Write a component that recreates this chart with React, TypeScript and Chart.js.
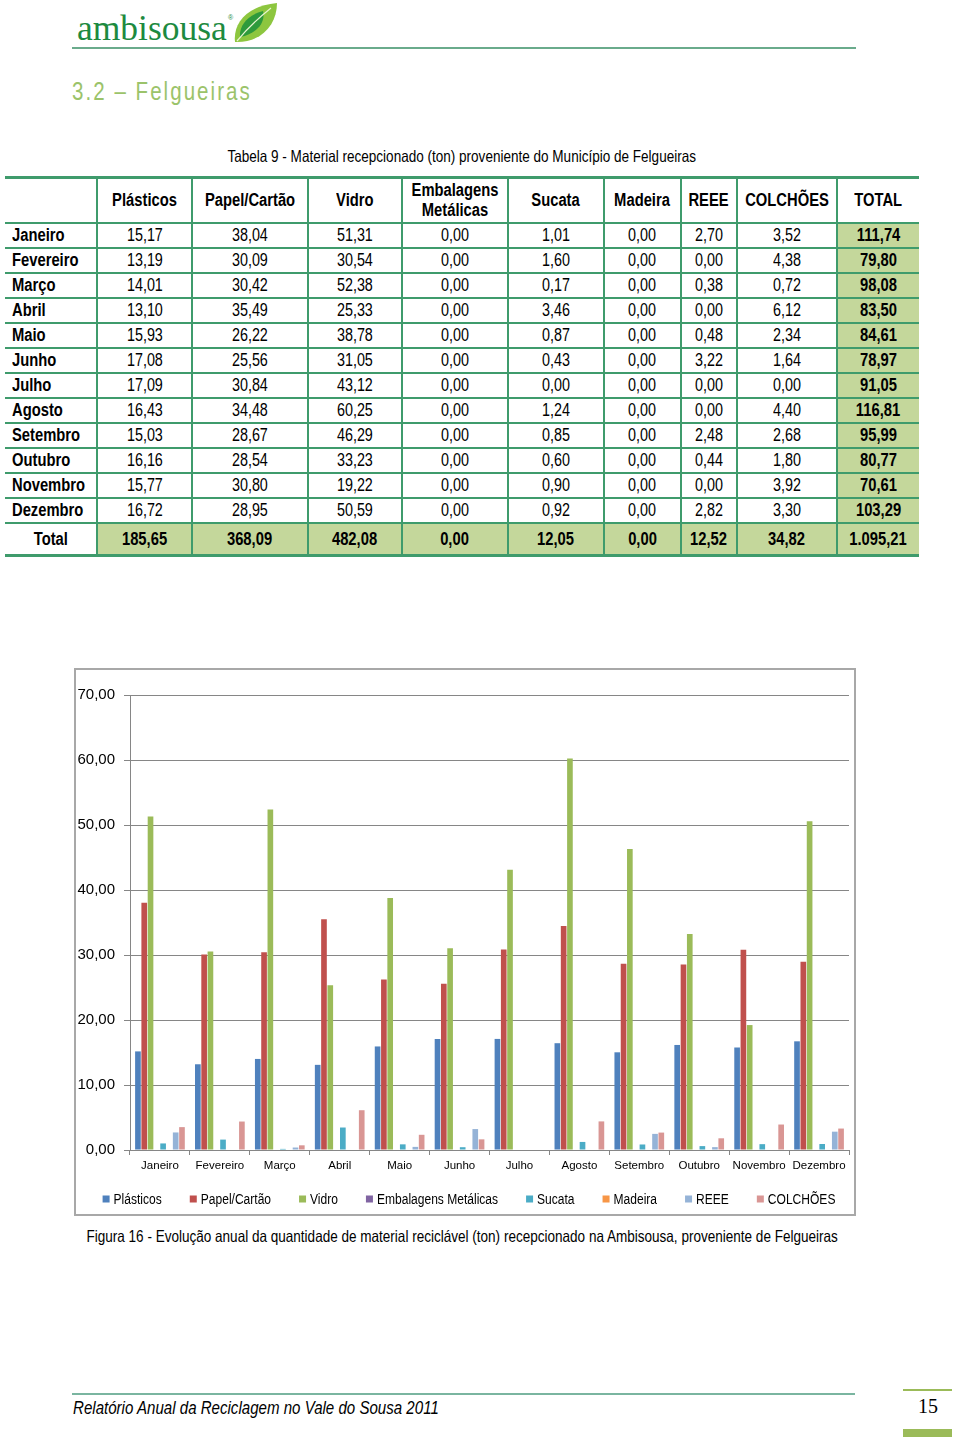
import React, { useEffect, useRef } from "react";
import { Chart, registerables } from "chart.js";

Chart.register(...registerables);

const SANS = '"Liberation Sans", Arial, sans-serif';
const SQ = 0.82; // horizontal squeeze to imitate a narrow face
const GREEN_LINE = "#3f9b6c";
const FILL = "#c4d79b";

const months = ["Janeiro", "Fevereiro", "Março", "Abril", "Maio", "Junho", "Julho", "Agosto", "Setembro", "Outubro", "Novembro", "Dezembro"];
const seriesNames = ["Plásticos", "Papel/Cartão", "Vidro", "Embalagens Metálicas", "Sucata", "Madeira", "REEE", "COLCHÕES"];
const seriesColors = ["#4f81bd", "#c0504d", "#9bbb59", "#8064a2", "#4bacc6", "#f79646", "#95b3d7", "#d99694"];

const plasticos = [15.17, 13.19, 14.01, 13.10, 15.93, 17.08, 17.09, 16.43, 15.03, 16.16, 15.77, 16.72];
const papel = [38.04, 30.09, 30.42, 35.49, 26.22, 25.56, 30.84, 34.48, 28.67, 28.54, 30.80, 28.95];
const vidro = [51.31, 30.54, 52.38, 25.33, 38.78, 31.05, 43.12, 60.25, 46.29, 33.23, 19.22, 50.59];
const embalagens = [0, 0, 0, 0, 0, 0, 0, 0, 0, 0, 0, 0];
const sucata = [1.01, 1.60, 0.17, 3.46, 0.87, 0.43, 0.00, 1.24, 0.85, 0.60, 0.90, 0.92];
const madeira = [0, 0, 0, 0, 0, 0, 0, 0, 0, 0, 0, 0];
const reee = [2.70, 0.00, 0.38, 0.00, 0.48, 3.22, 0.00, 0.00, 2.48, 0.44, 0.00, 2.82];
const colchoes = [3.52, 4.38, 0.72, 6.12, 2.34, 1.64, 0.00, 4.40, 2.68, 1.80, 3.92, 3.30];
const rowTotals = [111.74, 79.80, 98.08, 83.50, 84.61, 78.97, 91.05, 116.81, 95.99, 80.77, 70.61, 103.29];
const columnTotals = [185.65, 368.09, 482.08, 0.00, 12.05, 0.00, 12.52, 34.82, 1095.21];

const yTicks = [0, 10, 20, 30, 40, 50, 60, 70];

const allSeries = [plasticos, papel, vidro, embalagens, sucata, madeira, reee, colchoes];

function fmt(v: number): string {
  const [i, d] = v.toFixed(2).split(".");
  const withSep = i.replace(/\B(?=(\d{3})+(?!\d))/g, ".");
  return withSep + "," + d;
}

const colWidths = [92, 95, 116, 94, 106, 96, 77, 56, 100, 82];

const LEGEND_Y = 529;

const legendPlugin = {
  id: "customLegend",
  afterDraw(chart: any) {
    const ctx = chart.ctx;
    ctx.save();
    ctx.font = `14px ${SANS}`;
    const textScale = 0.86;
    const box = 7, gap = 4, spacing = 28;
    const items = chart.data.datasets.map((d: any) => ({
      text: d.label,
      color: d.backgroundColor,
      w: ctx.measureText(d.label).width * textScale,
    }));
    const total = items.reduce((s: number, it: any) => s + box + gap + it.w, 0) + spacing * (items.length - 1);
    let x = (chart.width - total) / 2 + 4;
    ctx.textBaseline = "middle";
    ctx.textAlign = "left";
    for (const it of items) {
      ctx.fillStyle = it.color;
      ctx.fillRect(x, LEGEND_Y - box / 2, box, box);
      ctx.save();
      ctx.translate(x + box + gap, LEGEND_Y + 1);
      ctx.scale(textScale, 1);
      ctx.fillStyle = "#000";
      ctx.fillText(it.text, 0, 0);
      ctx.restore();
      x += box + gap + it.w + spacing;
    }
    ctx.restore();
  },
};

function BarChart() {
  const ref = useRef<HTMLCanvasElement>(null);
  useEffect(() => {
    if (!ref.current) return;
    const chart = new Chart(ref.current, {
      type: "bar",
      data: {
        labels: months,
        datasets: seriesNames.map((name, i) => ({
          label: name,
          data: allSeries[i],
          backgroundColor: seriesColors[i],
          borderWidth: 0,
          categoryPercentage: 0.84,
          barPercentage: 0.9,
        })),
      },
      options: {
        animation: false,
        responsive: false,
        maintainAspectRatio: false,
        layout: { padding: { top: 25, right: 5, bottom: 34, left: 0 } },
        plugins: {
          legend: { display: false },
          tooltip: { enabled: false },
        },
        scales: {
          x: {
            grid: {
              offset: true,
              drawOnChartArea: false,
              drawTicks: true,
              tickLength: 5,
              color: "#868686",
            },
            border: { display: true, color: "#868686", width: 1 },
            ticks: {
              color: "#000",
              font: { family: SANS, size: 11.5 },
              padding: 4,
              maxRotation: 0,
              autoSkip: false,
            },
            afterFit: (s: any) => { s.height = 30; },
          },
          y: {
            min: 0,
            max: 70,
            afterBuildTicks: (s: any) => { s.ticks = yTicks.map((v) => ({ value: v })); },
            grid: { color: "#868686", tickLength: 6, drawTicks: true },
            border: { display: true, color: "#868686", width: 1 },
            ticks: {
              color: "#000",
              font: { family: SANS, size: 15 },
              padding: 9,
              callback: (v: any) => fmt(Number(v)),
            },
            afterFit: (s: any) => { s.width = 54; },
          },
        },
      },
      plugins: [legendPlugin],
    });
    return () => chart.destroy();
  }, []);
  return (
    <canvas
      ref={ref}
      width={778}
      height={544}
      style={{ position: "absolute", left: 76, top: 670, width: 778, height: 544 }}
    />
  );
}

function N({ children, origin = "center" }: { children: React.ReactNode; origin?: string }) {
  return (
    <span
      style={{
        display: "inline-block",
        whiteSpace: "nowrap",
        transform: `scaleX(${SQ})`,
        transformOrigin: origin,
      }}
    >
      {children}
    </span>
  );
}

function Leaf() {
  return (
    <svg width="46" height="42" viewBox="0 0 46 42" style={{ position: "absolute", left: 232, top: 2 }}>
      <path d="M3 40 C1 22 14 4 45 1 C45 22 30 41 3 40 Z" fill="#8dc63f" />
      <path d="M8 35 C7 24 15 13 31 9 C34 21 24 32 8 35 Z" fill="#2e9a3c" />
      <path d="M5 39 C14 28 24 18 39 6" stroke="#e8f5d0" strokeWidth="1.2" fill="none" />
    </svg>
  );
}

function Cell({
  children,
  style,
  align = "center",
}: {
  children?: React.ReactNode;
  style?: React.CSSProperties;
  align?: "center" | "left";
}) {
  return (
    <td
      style={{
        padding: 0,
        borderBottom: `2px solid ${GREEN_LINE}`,
        borderRight: `2px solid ${GREEN_LINE}`,
        fontFamily: SANS,
        fontSize: 17.5,
        color: "#000",
        overflow: "visible",
        ...style,
      }}
    >
      <div
        style={{
          display: "flex",
          justifyContent: align === "center" ? "center" : "flex-start",
          paddingLeft: align === "left" ? 7 : 0,
          lineHeight: "20px",
        }}
      >
        {children !== undefined && <N origin={align === "center" ? "center" : "left"}>{children}</N>}
      </div>
    </td>
  );
}

function DataTable() {
  const last = colWidths.length - 1;
  const bold: React.CSSProperties = { fontWeight: "bold", fontSize: 18 };
  const thick = `3px solid ${GREEN_LINE}`;
  return (
    <table
      style={{
        position: "absolute",
        left: 5,
        top: 176,
        width: 914,
        borderCollapse: "collapse",
        tableLayout: "fixed",
        borderTop: thick,
      }}
    >
      <colgroup>
        {colWidths.map((w, i) => (
          <col key={i} style={{ width: w }} />
        ))}
      </colgroup>
      <tbody>
        <tr style={{ height: 45 }}>
          <Cell />
          {seriesNames.map((n, i) => (
            <Cell key={i} style={bold}>
              {n === "Embalagens Metálicas" ? (
                <span style={{ display: "inline-block", textAlign: "center" }}>
                  Embalagens
                  <br />
                  Metálicas
                </span>
              ) : (
                n
              )}
            </Cell>
          ))}
          <Cell style={{ ...bold, borderRight: "none" }}>TOTAL</Cell>
        </tr>
        {months.map((m, r) => (
          <tr key={m} style={{ height: 25 }}>
            <Cell align="left" style={bold}>{m}</Cell>
            {allSeries.map((s, c) => (
              <Cell key={c}>{fmt(s[r])}</Cell>
            ))}
            <Cell style={{ ...bold, borderRight: "none", background: FILL }}>{fmt(rowTotals[r])}</Cell>
          </tr>
        ))}
        <tr style={{ height: 33 }}>
          <Cell style={{ ...bold, borderBottom: thick }}>Total</Cell>
          {columnTotals.map((v, c) => (
            <Cell
              key={c}
              style={{
                ...bold,
                borderBottom: thick,
                borderRight: c === last - 1 ? "none" : `2px solid ${GREEN_LINE}`,
                background: FILL,
              }}
            >
              {fmt(v)}
            </Cell>
          ))}
        </tr>
      </tbody>
    </table>
  );
}

export default function App() {
  return (
    <div style={{ position: "absolute", left: 0, top: 0, width: 960, height: 1440, background: "#fff", overflow: "hidden" }}>
      {/* Logo */}
      <div
        style={{
          position: "absolute",
          left: 77,
          top: 10,
          fontFamily: '"Liberation Serif", "DejaVu Serif", serif',
          fontSize: 35.5,
          lineHeight: "36px",
          color: "#1d8a3f",
        }}
      >
        ambisousa
      </div>
      <div style={{ position: "absolute", left: 228, top: 14, fontFamily: SANS, fontSize: 7, color: "#1d8a3f" }}>®</div>
      <Leaf />
      <div style={{ position: "absolute", left: 72, top: 47, width: 784, height: 2, background: "#6aab8c" }} />

      {/* Section title */}
      <div
        style={{
          position: "absolute",
          left: 72,
          top: 77,
          fontFamily: SANS,
          fontSize: 25,
          lineHeight: "28px",
          color: "#9bc36a",
        }}
      >
        <span style={{ display: "inline-block", whiteSpace: "nowrap", transform: `scaleX(${SQ})`, transformOrigin: "left", letterSpacing: 2.5 }}>
          3.2 – Felgueiras
        </span>
      </div>

      {/* Table caption */}
      <div
        style={{
          position: "absolute",
          left: 0,
          width: 924,
          top: 147,
          textAlign: "center",
          fontFamily: SANS,
          fontSize: 16.5,
          lineHeight: "19px",
          color: "#000",
        }}
      >
        <N>Tabela 9 - Material recepcionado (ton) proveniente do Município de Felgueiras</N>
      </div>

      <DataTable />

      {/* Chart box */}
      <div
        style={{
          position: "absolute",
          left: 74,
          top: 668,
          width: 778,
          height: 544,
          border: "2px solid #a8a8a8",
        }}
      />
      <BarChart />

      {/* Figure caption */}
      <div
        style={{
          position: "absolute",
          left: 0,
          width: 924,
          top: 1227,
          textAlign: "center",
          fontFamily: SANS,
          fontSize: 16.5,
          lineHeight: "19px",
          color: "#000",
        }}
      >
        <N>Figura 16 - Evolução anual da quantidade de material reciclável (ton) recepcionado na Ambisousa, proveniente de Felgueiras</N>
      </div>

      {/* Footer */}
      <div style={{ position: "absolute", left: 72, top: 1393, width: 783, height: 2, background: "#7ab5a0" }} />
      <div
        style={{
          position: "absolute",
          left: 73,
          top: 1397,
          fontFamily: SANS,
          fontStyle: "italic",
          fontSize: 18.4,
          lineHeight: "21px",
          color: "#000",
        }}
      >
        <N origin="left">Relatório Anual da Reciclagem no Vale do Sousa 2011</N>
      </div>
      <div style={{ position: "absolute", left: 903, top: 1389, width: 49, height: 2, background: "#9bbb59" }} />
      <div
        style={{
          position: "absolute",
          left: 918,
          top: 1395,
          fontFamily: '"Liberation Serif", serif',
          fontSize: 20,
          lineHeight: "22px",
          color: "#000",
        }}
      >
        15
      </div>
      <div style={{ position: "absolute", left: 903, top: 1429, width: 49, height: 8, background: "#9bbb59" }} />
    </div>
  );
}
